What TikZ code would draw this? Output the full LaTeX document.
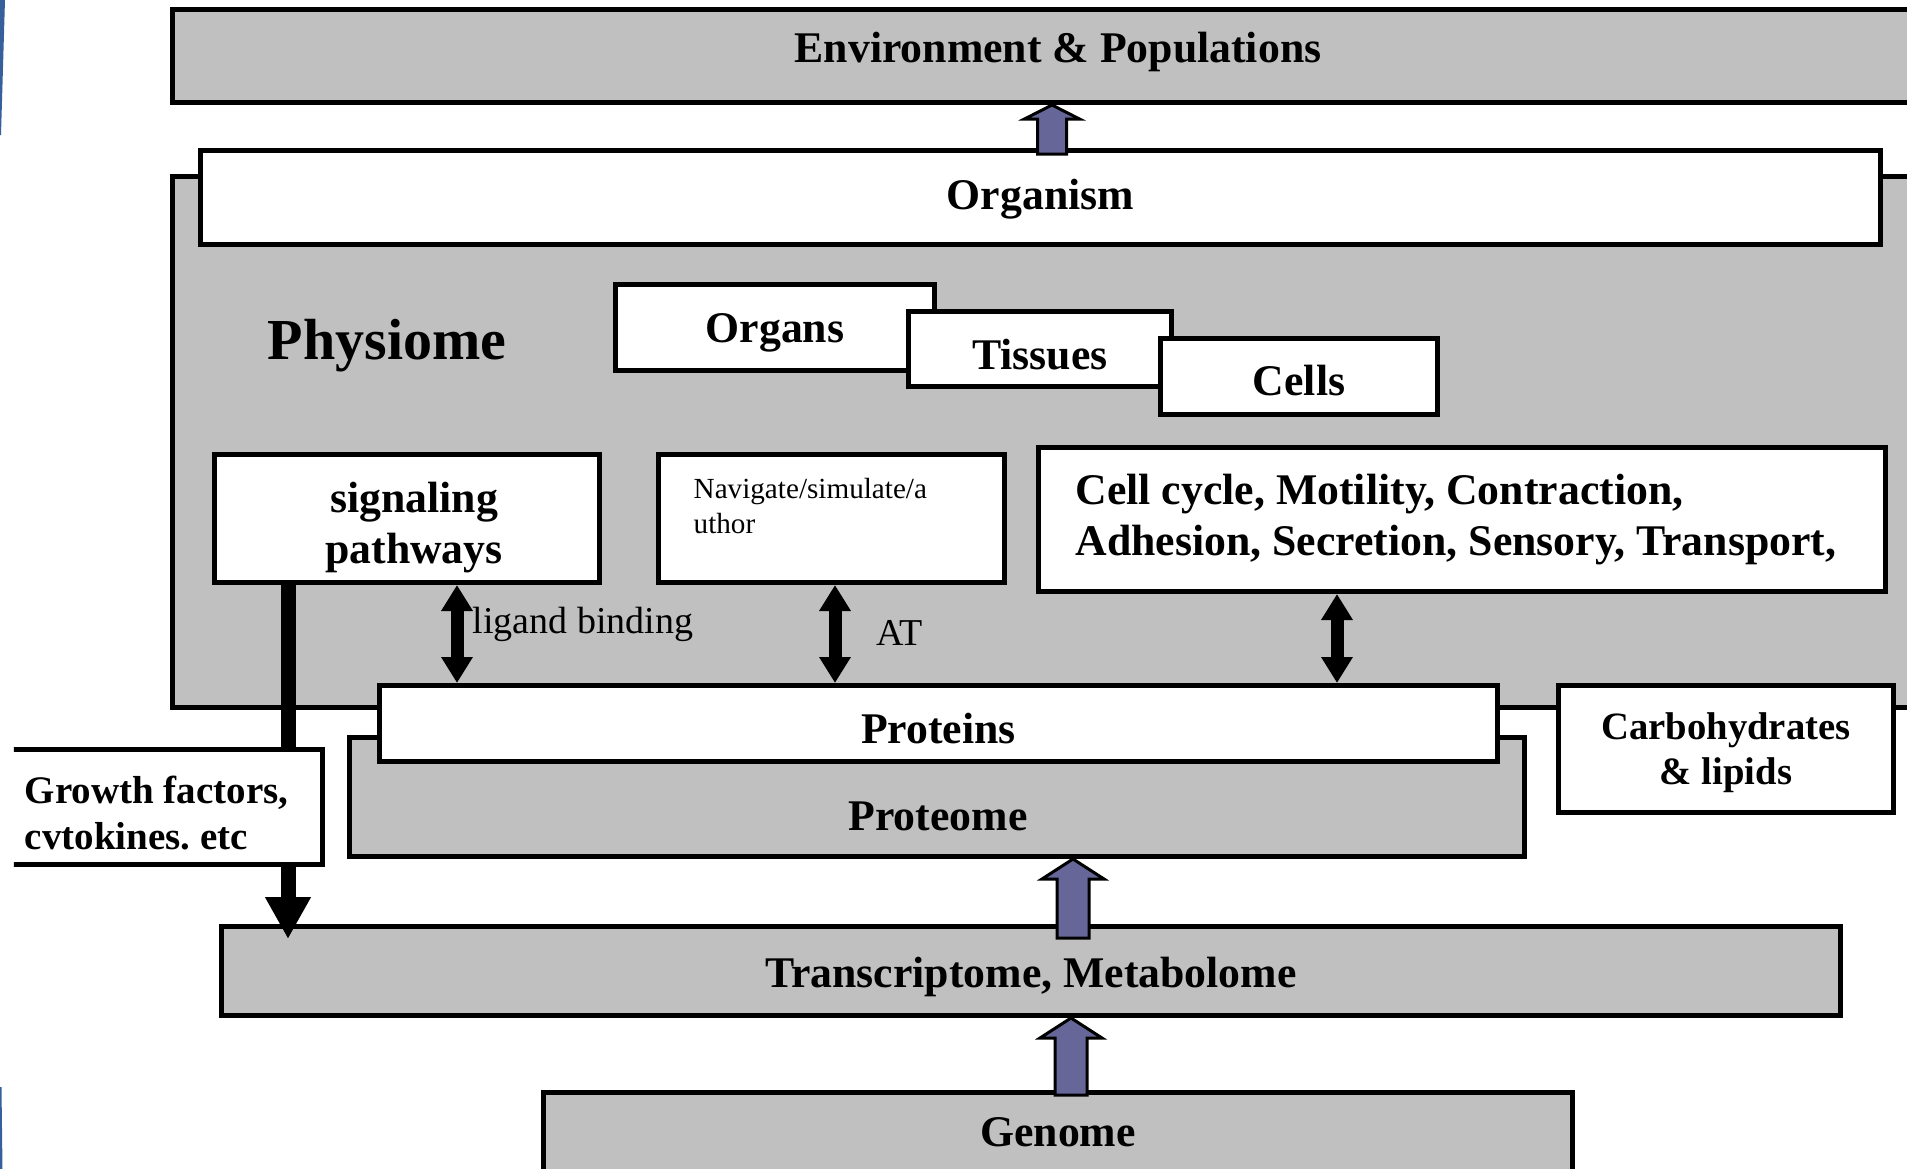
\documentclass[tikz,border=0pt]{standalone}
\usepackage{fontspec}
\setmainfont{Liberation Serif}
\usetikzlibrary{arrows.meta,positioning,calc}

\definecolor{panelgray}{RGB}{192,192,192}
\definecolor{arrowpurple}{RGB}{102,102,153}
\definecolor{slideblue}{RGB}{55,95,155}

\begin{document}
\begin{tikzpicture}[
  every node/.style={font=\fontsize{12.45}{14.5}\selectfont\bfseries},
  box/.style={draw,line width=.05cm,fill=white,inner sep=0pt,text depth=0pt},
  graybox/.style={box,fill=panelgray},
  dbl/.style={line width=.13cm,{Triangle[length=.26cm,width=.30cm]}-{Triangle[length=.26cm,width=.30cm]}},
  fatarr/.style={draw=black,line width=.03cm,fill=arrowpurple,line join=miter}]
\useasboundingbox (0,0) rectangle (19.07,-11.69);
\clip (0,0) rectangle (19.07,-11.69);
\fill[slideblue] (0,0) -- (0.05,0) -- (0.01,-1.35) -- (0,-1.35) -- cycle;
\fill[slideblue] (0,-10.87) -- (0.015,-10.87) -- (0.025,-11.69) -- (0,-11.69) -- cycle;
\coordinate (ax1) at (10.52,0);
\coordinate (ax2) at (10.73,0);
\coordinate (ax3) at (10.71,0);
\coordinate (gfx) at (2.88,0);
\coordinate (ligx) at (4.57,0);
\coordinate (atx) at (8.35,0);
\coordinate (ccx) at (13.37,0);
\node[graybox,minimum width=17.71cm,minimum height=.93cm,text height=.12cm] (env) at (10.58,-.56) {Environment \& Populations};
\node[graybox,minimum width=17.75cm,minimum height=5.31cm] (phys) at (10.60,-4.42) {};
\node[box,minimum width=16.80cm,minimum height=.94cm,text height=.24cm] (org) at (10.405,-1.975) {Organism};
\draw[fatarr] let \p1=($(org.north -| ax1)+(0,-.06)$), \p2=(env.south -| ax1) in
  (\x1-.145cm,\y1) -- (\x1-.145cm,\y2-.14cm) -- (\x1-.275cm,\y2-.14cm) -- (\x2,\y2)
  -- (\x1+.275cm,\y2-.14cm) -- (\x1+.145cm,\y2-.14cm) -- (\x1+.145cm,\y1) -- cycle;
\node[font=\fontsize{16.5}{19}\selectfont\bfseries] (physlbl) at (3.87,-3.46) {Physiome};
\node[box,minimum width=3.19cm,minimum height=.86cm,text height=.30cm] (organs) at (7.75,-3.275) {Organs};
\node[box,minimum width=2.63cm,minimum height=.75cm,text height=.40cm] (tissues) at (10.40,-3.49) {Tissues};
\node[box,minimum width=2.77cm,minimum height=.76cm,text height=.38cm] (cells) at (12.99,-3.765) {Cells};
\node[box,minimum width=3.85cm,minimum height=1.28cm] (sig) at (4.07,-5.185) {};
\node[align=center] (siglbl) at (4.14,-5.28) {signaling\\pathways};
\node[box,minimum width=3.46cm,minimum height=1.28cm] (nav) at (8.315,-5.185) {};
\node[anchor=north west,align=left,inner sep=0pt,font=\fontsize{8.3}{9.7}\selectfont] (navlbl) at (6.93,-4.78) {Navigate/simulate/a\\uthor};
\node[box,minimum width=8.47cm,minimum height=1.44cm] (cc) at (14.62,-5.195) {};
\node[anchor=west,align=left,inner sep=0pt] (cclbl) at (10.75,-5.20) {Cell cycle, Motility, Contraction,\\Adhesion, Secretion, Sensory, Transport,};
\node[graybox,minimum width=11.75cm,minimum height=1.19cm] (proteome) at (9.37,-7.97) {};
\node (proteomelbl) at (9.38,-8.16) {Proteome};
\node[box,minimum width=11.18cm,minimum height=.76cm,text height=.40cm] (proteins) at (9.385,-7.235) {Proteins};
\node[box,minimum width=3.35cm,minimum height=1.27cm] (carb) at (17.26,-7.49) {};
\node[align=center,font=\fontsize{11}{12.8}\selectfont\bfseries] (carblbl) at (17.26,-7.53) {Carbohydrates\\\& lipids};
\node[graybox,minimum width=16.19cm,minimum height=.89cm,text height=.32cm] (trans) at (10.31,-9.71) {Transcriptome, Metabolome};
\node[graybox,minimum width=10.29cm,minimum height=.85cm,text height=.22cm] (genome) at (10.58,-11.35) {Genome};
\draw[line width=.15cm,-{Triangle[length=.42cm,width=.43cm]},shorten >=-.15cm] (sig.south -| gfx) -- (trans.north -| gfx);
\begin{scope}
\clip (.14,-7) rectangle (4,-9);
\node[box,minimum width=3.725cm,minimum height=1.15cm] (growth) at (1.36,-8.07) {};
\end{scope}
\node[anchor=west,align=left,inner sep=0pt,font=\fontsize{11.1}{13.1}\selectfont\bfseries] (growthlbl) at (.24,-8.13) {Growth factors,\\cvtokines.\ etc};
\draw[dbl] (sig.south -| ligx) -- (proteins.north -| ligx);
\node[anchor=west,inner sep=0pt,font=\fontsize{10.8}{13}\selectfont] (liglbl) at (4.72,-6.24) {ligand binding};
\draw[dbl] (nav.south -| atx) -- (proteins.north -| atx);
\node[anchor=base west,inner sep=0pt,font=\fontsize{10.8}{13}\selectfont] (atlbl) at (8.76,-6.45) {AT};
\draw[dbl] (cc.south -| ccx) -- (proteins.north -| ccx);
\draw[fatarr] let \p1=($(trans.north -| ax2)+(0,-.14)$), \p2=(proteome.south -| ax2) in
  (\x1-.16cm,\y1) -- (\x1-.16cm,\y2-.2cm) -- (\x1-.31cm,\y2-.2cm) -- (\x2,\y2)
  -- (\x1+.31cm,\y2-.2cm) -- (\x1+.16cm,\y2-.2cm) -- (\x1+.16cm,\y1) -- cycle;
\draw[fatarr] let \p1=($(genome.north -| ax3)+(0,-.05)$), \p2=(trans.south -| ax3) in
  (\x1-.16cm,\y1) -- (\x1-.16cm,\y2-.2cm) -- (\x1-.31cm,\y2-.2cm) -- (\x2,\y2)
  -- (\x1+.31cm,\y2-.2cm) -- (\x1+.16cm,\y2-.2cm) -- (\x1+.16cm,\y1) -- cycle;
\end{tikzpicture}
\end{document}
